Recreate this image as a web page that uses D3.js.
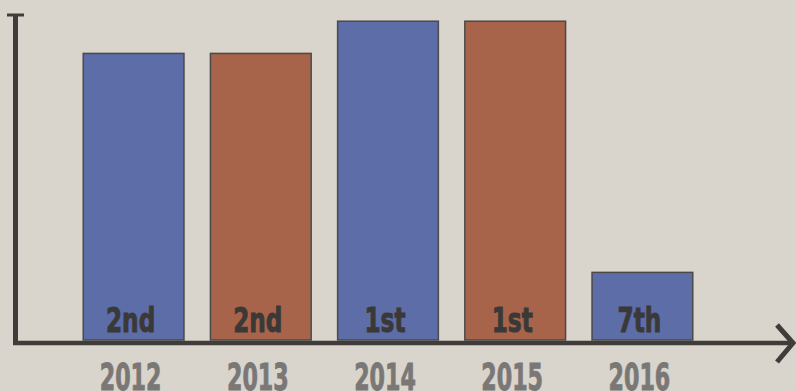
<!DOCTYPE html>
<html>
<head>
<meta charset="utf-8">
<script src="https://cdn.jsdelivr.net/npm/d3@7"></script>
<style>
  body { margin: 0; background: #d9d5cc; }
  svg { display: block; }
</style>
</head>
<body>
<div id="chart"></div>
<script>
var years  = ["2012", "2013", "2014", "2015", "2016"];
var ranks  = ["2nd", "2nd", "1st", "1st", "7th"];
var scores = [89, 89, 99, 99, 21];   // bar heights (no printed scale)
var colors = ["#5c6da8", "#a8644b", "#5c6da8", "#a8644b", "#5c6da8"];

var width = 796, height = 391;

var svg = d3.select("#chart").append("svg")
    .attr("width", width)
    .attr("height", height);

svg.append("rect")
    .attr("width", width)
    .attr("height", height)
    .attr("fill", "#d9d5cc");

// scales
var x = d3.scaleBand()
    .domain(years)
    .range([70, 706])
    .paddingInner(0.208)
    .paddingOuter(0.104);

var y = d3.scaleLinear()
    .domain([0, 100])
    .range([340, 18]);

// bars
svg.selectAll(".bar")
    .data(years)
    .enter().append("rect")
    .attr("class", "bar")
    .attr("x", function(d) { return x(d); })
    .attr("y", function(d, i) { return y(scores[i]); })
    .attr("width", x.bandwidth())
    .attr("height", function(d, i) { return y(0) - y(scores[i]); })
    .attr("fill", function(d, i) { return colors[i]; })
    .attr("stroke", "#4b4a48")
    .attr("stroke-width", 1.5);

var labelFont = "'DejaVu Sans Condensed', 'Liberation Sans Narrow', sans-serif";

// rank labels inside bars (narrow, tall like the printed face)
svg.selectAll(".rank")
    .data(years)
    .enter().append("text")
    .attr("class", "rank")
    .attr("transform", function(d) {
        return "translate(" + (x(d) + x.bandwidth() / 2 - 3) + ",332) scale(0.86,1.14)";
    })
    .attr("text-anchor", "middle")
    .style("font-family", labelFont)
    .style("font-weight", "bold")
    .style("font-size", "30px")
    .style("fill", "#3a3937")
    .style("stroke", "#3a3937")
    .style("stroke-width", 0.8)
    .text(function(d, i) { return ranks[i]; });

// year labels under axis
svg.selectAll(".year")
    .data(years)
    .enter().append("text")
    .attr("class", "year")
    .attr("transform", function(d) {
        return "translate(" + (x(d) + x.bandwidth() / 2 - 3) + ",390) scale(0.77,1.15)";
    })
    .attr("text-anchor", "middle")
    .style("font-family", labelFont)
    .style("font-weight", "bold")
    .style("font-size", "32px")
    .style("fill", "#7a7876")
    .style("stroke", "#7a7876")
    .style("stroke-width", 0.8)
    .text(function(d) { return d; });

// axes
var axisColor = "#3f3c3a";

svg.append("line")
    .attr("x1", 15.5).attr("x2", 15.5)
    .attr("y1", 16).attr("y2", 345)
    .attr("stroke", axisColor)
    .attr("stroke-width", 5);

svg.append("line")
    .attr("x1", 7).attr("x2", 24)
    .attr("y1", 15).attr("y2", 15)
    .attr("stroke", axisColor)
    .attr("stroke-width", 3);

svg.append("line")
    .attr("x1", 13).attr("x2", 790)
    .attr("y1", 343).attr("y2", 343)
    .attr("stroke", axisColor)
    .attr("stroke-width", 4.5);

svg.append("polyline")
    .attr("points", "777,325 793,343 777,362")
    .attr("fill", "none")
    .attr("stroke", axisColor)
    .attr("stroke-width", 5);
</script>
</body>
</html>
